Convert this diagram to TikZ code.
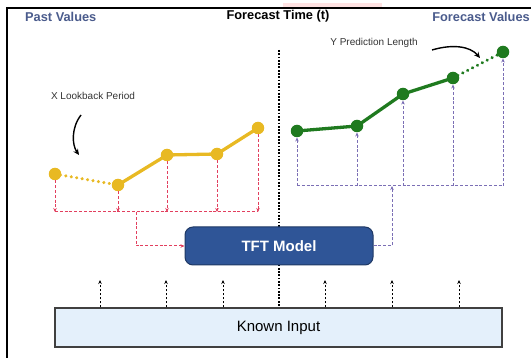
\documentclass[tikz,border=0pt]{standalone}
\usepackage{fontspec}
\setmainfont{Liberation Sans}
\usetikzlibrary{arrows.meta}

\definecolor{headblue}{HTML}{4A5B8C}
\definecolor{pastgold}{HTML}{E8B923}
\definecolor{futgreen}{HTML}{1F7A1F}
\definecolor{feedred}{HTML}{E23F5E}
\definecolor{outpurple}{HTML}{7B6FB5}
\definecolor{modelblue}{HTML}{2F5597}
\definecolor{modeledge}{HTML}{1F3864}
\definecolor{inputfill}{HTML}{E4F0FB}
\definecolor{inputedge}{HTML}{404040}
\definecolor{notegray}{HTML}{333333}

\tikzset{
  heading/.style={font=\bfseries\fontsize{12.8}{14}\selectfont, inner sep=0pt},
  note/.style={font=\fontsize{10}{12}\selectfont, text=notegray, inner sep=0pt},
  pastdot/.style={circle, fill=pastgold, minimum size=12.5pt, inner sep=0pt},
  futdot/.style={circle, fill=futgreen, minimum size=12.5pt, inner sep=0pt},
  pastline/.style={draw=pastgold, line width=3.3pt},
  pastgap/.style={draw=pastgold, line width=3.4pt, line cap=round, dash pattern=on 0.01pt off 5.5pt},
  futline/.style={draw=futgreen, line width=3.3pt},
  futgap/.style={draw=futgreen, line width=3.4pt, line cap=round, dash pattern=on 0.01pt off 5.5pt},
  feed/.style={draw=feedred, line width=1pt, dash pattern=on 3pt off 1.8pt},
  emit/.style={draw=outpurple, line width=1pt, dash pattern=on 3pt off 1.8pt},
  tip/.style={-{Stealth[length=4pt,width=3.5pt]}},
  known/.style={draw=black, line width=0.9pt, dash pattern=on 2.5pt off 1.5pt},
  divider/.style={draw=black, line width=2.2pt, dash pattern=on 1.8pt off 1.5pt},
  curl/.style={draw=black, line width=1.4pt, -{Stealth[length=6pt,width=5.5pt]}},
  modelbox/.style={draw=modeledge, line width=1pt, fill=modelblue, rounded corners=8pt,
    minimum width=188pt, minimum height=38pt, text=white,
    font=\bfseries\fontsize{15}{17}\selectfont},
  inputbox/.style={draw=inputedge, line width=1.3pt, fill=inputfill,
    minimum width=447pt, minimum height=39pt, font=\fontsize{15}{17}\selectfont}
}

\begin{document}
\begin{tikzpicture}[x=1pt, y=-1pt]
\useasboundingbox (0,0) rectangle (531,358);

% frame and the faint mark along the top edge
\fill[pink!45] (283,3) rectangle (382,7);
\draw[line width=1.5pt] (531,8) -- (7,8) -- (7,358);

% headings
\node[heading, text=headblue, anchor=west] (pasthead) at (25,17) {Past Values};
\node[heading, text=black] (nowhead) at (278,16) {Forecast Time (t)};
\node[heading, text=headblue, anchor=east] (futhead) at (530,17) {Forecast Values};

% present-time divider (drawn first so the boxes cover it)
\coordinate (divtop) at (279,50);
\coordinate (divbot) at (279,308);
\draw[divider] (divtop) -- (divbot);

% boxes
\node[modelbox] (tft) at (279,246) {TFT Model};
\node[inputbox] (input) at (278.5,327.5) {Known Input};

% past observations
\node[pastdot] (p1) at (55,174) {};
\node[pastdot] (p2) at (118,185) {};
\node[pastdot] (p3) at (167,155) {};
\node[pastdot] (p4) at (217,154) {};
\node[pastdot] (p5) at (258,128) {};
\draw[pastgap] (p1.center) -- (p2.center);
\draw[pastline] (p2.center) -- (p3.center) -- (p4.center) -- (p5.center);

% forecast values
\node[futdot] (f1) at (297,131) {};
\node[futdot] (f2) at (357,126) {};
\node[futdot] (f3) at (403,94) {};
\node[futdot] (f4) at (453,78) {};
\node[futdot] (f5) at (503,52) {};
\draw[futline] (f1.center) -- (f2.center) -- (f3.center) -- (f4.center);
\draw[futgap] (f4.center) -- (f5.center);

% past values feed the model
\foreach \i in {1,...,5} {
  \coordinate (pb\i) at (p\i |- 0,212);
  \draw[feed, tip] (p\i.south) -- (pb\i);
}
\draw[feed] (pb1) -- (pb5);
\coordinate (pjoin) at (136,212);
\coordinate (pturn) at (136,246);
\draw[feed, tip] (pjoin) -- (pturn) -- (tft.west);

% model emits the forecast values
\foreach \i in {1,...,5} {
  \coordinate (fb\i) at (f\i |- 0,186);
  \draw[emit, tip] (fb\i) -- (f\i.south);
}
\draw[emit] (fb1) -- (fb5);
\coordinate (fturn) at (392,246);
\coordinate (fjoin) at (392,186);
\draw[emit, tip] (tft.east) -- (fturn) -- (fjoin);

% known future inputs
\foreach \x [count=\k] in {100,166,223,325,392,459} {
  \coordinate (kt\k) at (\x,280);
  \draw[known, tip] (kt\k |- input.north) -- (kt\k);
}

% annotations
\node[note] (lookback) at (93,96) {X Lookback Period};
\coordinate (lbstart) at (81,115);
\coordinate (lbend) at (79,155);
\draw[curl] (lbstart) .. controls (71,128) and (72,145) .. (lbend);

\node[note] (horizon) at (374,43) {Y Prediction Length};
\coordinate (hzstart) at (432,50);
\coordinate (hzend) at (480,58);
\draw[curl] (hzstart) .. controls (452,44) and (470,46) .. (hzend);
\end{tikzpicture}
\end{document}
